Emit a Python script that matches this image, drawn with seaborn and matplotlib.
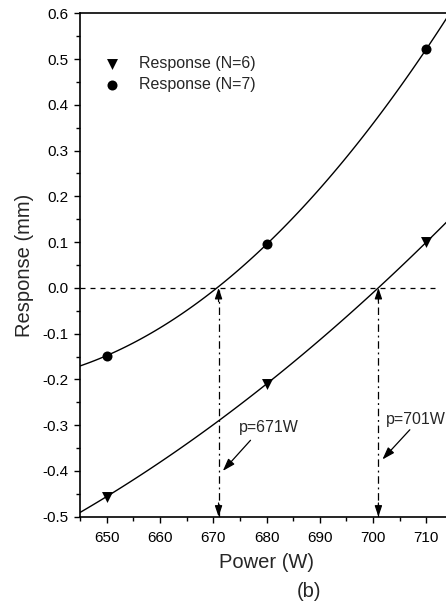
import numpy as np
import pandas as pd
import matplotlib
matplotlib.use("Agg")
import matplotlib.pyplot as plt
import seaborn as sns
from matplotlib.ticker import MultipleLocator, FormatStrFormatter

# Measured response at three power settings for two configurations
power = [650, 680, 710]
response_n6 = [-0.456, -0.21, 0.10]
response_n7 = [-0.148, 0.095, 0.522]
series_labels = ["Response (N=6)", "Response (N=7)"]
series_markers = ["v", "o"]

# Zero-crossing powers and their callouts
crossing_power = [671, 701]
crossing_labels = ["p=671W", "p=701W"]

df = pd.DataFrame({
    "Power": power * 2,
    "Response": response_n6 + response_n7,
    "Series": [series_labels[0]] * 3 + [series_labels[1]] * 3,
})

sns.set_style("ticks")
plt.rcParams["font.family"] = ["Liberation Sans", "DejaVu Sans"]

fig = plt.figure(figsize=(4.46, 6.02), dpi=100)
ax = fig.add_axes([0.1794, 0.1417, 0.8363, 0.8362])
ax.set_xlim(645, 715)
ax.set_ylim(-0.5, 0.6)

# Second-order polynomial fit for each series, spanning the full axis
for label, marker in zip(series_labels, series_markers):
    sub = df[df["Series"] == label]
    sns.regplot(data=sub, x="Power", y="Response", order=2, ci=None,
                truncate=False, scatter=False,
                line_kws=dict(color="black", lw=1.0), ax=ax)

for label, marker, size in zip(series_labels, series_markers, [62, 52]):
    sub = df[df["Series"] == label]
    sns.scatterplot(data=sub, x="Power", y="Response", marker=marker,
                    color="black", s=size, linewidth=0, label=label,
                    ax=ax, zorder=4)

# Zero reference line
ax.hlines(0, 645, 712, colors="black", linestyles=(0, (4, 4)), lw=0.9,
          zorder=2)

head = dict(arrowstyle="-|>,head_length=0.65,head_width=0.22",
            color="black", lw=0.9, shrinkA=0, shrinkB=0, mutation_scale=10)

# Drop lines from each zero crossing down to the power axis
for xp in crossing_power:
    ax.vlines(xp, -0.5, 0, colors="black", linestyles=(0, (6, 3, 1.5, 3)),
              lw=0.9, zorder=2)
    ax.annotate("", xy=(xp, 0), xytext=(xp, -0.03), arrowprops=head,
                annotation_clip=False)
    ax.annotate("", xy=(xp, -0.5), xytext=(xp, -0.47), arrowprops=head,
                annotation_clip=False)

# Callout labels with pointer arrows
text_pos = [(674.8, -0.306), (702.5, -0.287)]
arrow_from = [(677.0, -0.333), (706.9, -0.31)]
arrow_to = [(671.8, -0.40), (701.75, -0.375)]
for lab, tp, af, at in zip(crossing_labels, text_pos, arrow_from, arrow_to):
    ax.text(tp[0], tp[1], lab, fontsize=11.5, ha="left", va="center")
    ax.annotate("", xy=at, xytext=af,
                arrowprops=dict(arrowstyle="-|>,head_length=0.75,head_width=0.25",
                                color="black", lw=0.9, shrinkA=0, shrinkB=0,
                                mutation_scale=10))

ax.xaxis.set_major_locator(MultipleLocator(10))
ax.xaxis.set_minor_locator(MultipleLocator(5))
ax.yaxis.set_major_locator(MultipleLocator(0.1))
ax.yaxis.set_minor_locator(MultipleLocator(0.05))
ax.yaxis.set_major_formatter(FormatStrFormatter("%.1f"))

ax.tick_params(which="major", direction="out", length=4, width=1.0,
               labelsize=11, pad=4, color="black", labelcolor="black")
ax.tick_params(axis="x", which="major", pad=6)
ax.tick_params(which="minor", direction="out", length=3, width=1.0,
               color="black")
ax.tick_params(top=False, right=False, which="both")
for sp in ax.spines.values():
    sp.set_linewidth(1.2)
    sp.set_color("black")

ax.set_xlabel("Power (W)", fontsize=14.5, labelpad=6)
ax.set_ylabel("Response (mm)", fontsize=14.5, labelpad=6)

ax.legend(frameon=False, loc="upper left", bbox_to_anchor=(0.034, 0.928),
          borderaxespad=0, handlelength=1.6, handletextpad=0.9,
          labelspacing=0.38, fontsize=11.5, borderpad=0.4)

fig.text(309 / 446, 0.018, "(b)", fontsize=14.5, ha="center", va="center")

fig.savefig("out.png", dpi=100)
